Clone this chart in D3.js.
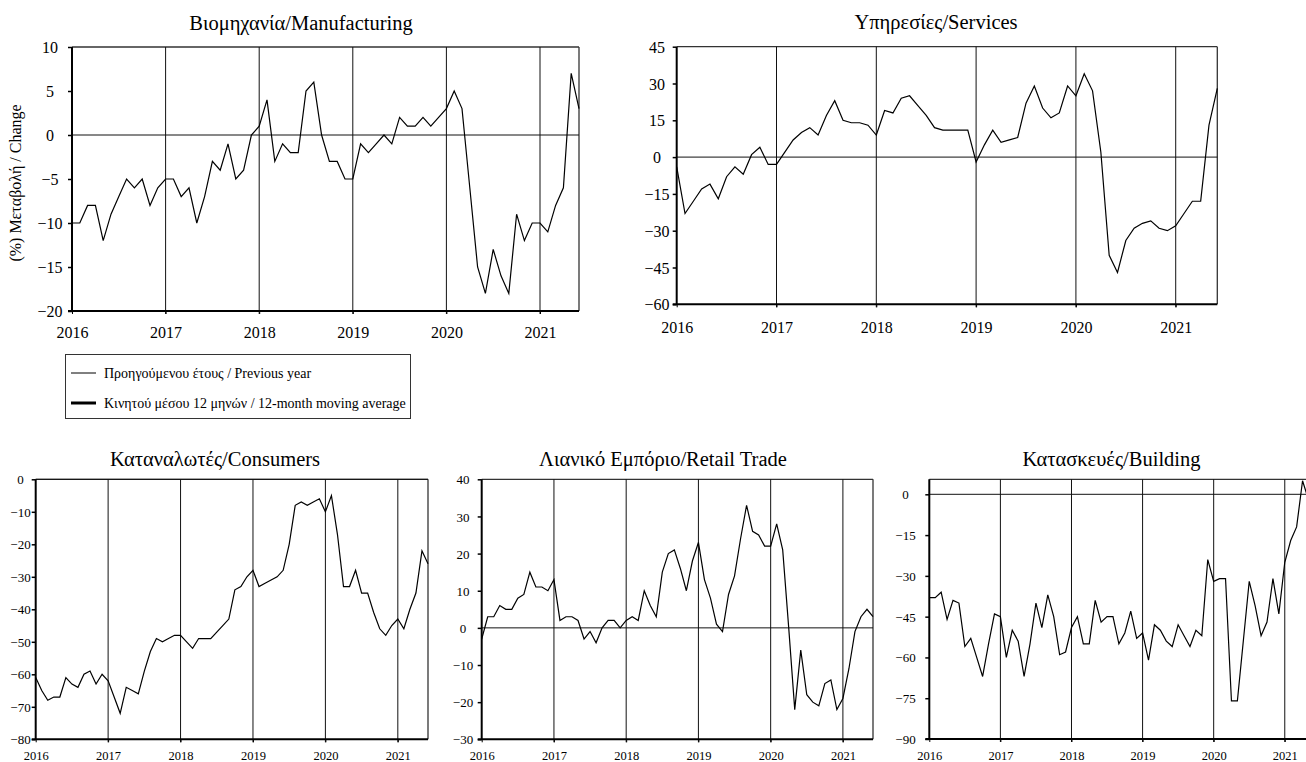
<!DOCTYPE html>
<html><head><meta charset="utf-8">
<script src="https://cdn.jsdelivr.net/npm/d3@7"></script>
<style>
body{margin:0;background:#fff}
svg{display:block}
text{font-family:"Liberation Serif","DejaVu Serif",serif;fill:#000}
</style>
</head><body>
<svg id="c" width="1306" height="762"></svg>
<script>
// ---------- DATA (monthly, Jan 2016 – Jun 2021) ----------
const yearLabels = ["2016","2017","2018","2019","2020","2021"];
const yearStartIndex = [0, 12, 24, 36, 48, 60];

const titles = ["Βιομηχανία/Manufacturing", "Υπηρεσίες/Services", "Καταναλωτές/Consumers",
                "Λιανικό Εμπόριο/Retail Trade", "Κατασκευές/Building"];
const yAxisTitle = "(%) Μεταβολή / Change";
const legendLabels = ["Προηγούμενου έτους / Previous year",
                      "Κινητού μέσου 12 μηνών / 12-month moving average"];

const manufacturing = [-10,-10,-8,-8,-12,-9,-7,-5,-6,-5,-8,-6,
  -5,-5,-7,-6,-10,-7,-3,-4,-1,-5,-4,0,
  1,4,-3,-1,-2,-2,5,6,0,-3,-3,-5,
  -5,-1,-2,-1,0,-1,2,1,1,2,1,2,
  3,5,3,-6,-15,-18,-13,-16,-18,-9,-12,-10,
  -10,-11,-8,-6,7,3];
const services = [-4,-23,-18,-13,-11,-17,-8,-4,-7,1,4,-3,
  -3,2,7,10,12,9,17,23,15,14,14,13,
  9,19,18,24,25,21,17,12,11,11,11,11,
  -2,5,11,6,7,8,22,29,20,16,18,29,
  25,34,27,2,-40,-47,-34,-29,-27,-26,-29,-30,
  -28,-23,-18,-18,13,28];
const consumers = [-61,-65,-68,-67,-67,-61,-63,-64,-60,-59,-63,-60,
  -62,-67,-72,-64,-65,-66,-59,-53,-49,-50,-49,-48,
  -48,-50,-52,-49,-49,-49,-47,-45,-43,-34,-33,-30,
  -28,-33,-32,-31,-30,-28,-20,-8,-7,-8,-7,-6,
  -10,-5,-17,-33,-33,-28,-35,-35,-41,-46,-48,-45,
  -43,-46,-40,-35,-22,-26];
const retail = [-3,3,3,6,5,5,8,9,15,11,11,10,
  13,2,3,3,2,-3,-1,-4,0,2,2,0,
  2,3,2,10,6,3,15,20,21,16,10,18,
  23,13,8,1,-1,9,14,24,33,26,25,22,
  22,28,21,0,-22,-6,-18,-20,-21,-15,-14,-22,
  -19,-11,-1,3,5,3];
const building = [-38,-38,-36,-46,-39,-40,-56,-53,-60,-67,-55,-44,
  -45,-60,-50,-54,-67,-55,-40,-49,-37,-45,-59,-58,
  -49,-45,-55,-55,-39,-47,-45,-45,-55,-51,-43,-53,
  -51,-61,-48,-50,-54,-56,-48,-52,-56,-50,-52,-24,
  -32,-31,-31,-76,-76,-54,-32,-41,-52,-47,-31,-44,
  -25,-17,-12,5,-2];

const yTicksManuf = [-20,-15,-10,-5,0,5,10];
const yTicksServ = [-60,-45,-30,-15,0,15,30,45];
const yTicksCons = [-80,-70,-60,-50,-40,-30,-20,-10,0];
const yTicksRetail = [-30,-20,-10,0,10,20,30,40];
const yTicksBuild = [-90,-75,-60,-45,-30,-15,0];

// ---------- LAYOUT ----------
const FONT = '"Liberation Serif","DejaVu Serif",serif';
const svg = d3.select("#c");

function drawPanel(values, yTicks, o) {
  const g = svg.append("g");
  const x = d3.scaleLinear().domain([0, 65]).range([o.left, o.right]);
  const y = d3.scaleLinear().domain(o.yDomain).range([o.bottom, o.top]);
  const xr = Math.min(o.right, 1306);

  // border (top/right)
  g.append("line").attr("x1", o.left).attr("x2", xr).attr("y1", o.top).attr("y2", o.top)
    .attr("stroke", "#333").attr("stroke-width", 1.3);
  g.append("line").attr("x1", o.right).attr("x2", o.right).attr("y1", o.top).attr("y2", o.bottom)
    .attr("stroke", "#333").attr("stroke-width", 1.3);

  // year gridlines
  g.selectAll(".yg").data(yearStartIndex.slice(1)).join("line")
    .attr("x1", d => x(d)).attr("x2", d => x(d)).attr("y1", o.top).attr("y2", o.bottom + 3)
    .attr("stroke", "#111").attr("stroke-width", 1);

  // zero line
  g.append("line").attr("x1", o.left).attr("x2", xr).attr("y1", y(0)).attr("y2", y(0))
    .attr("stroke", "#111").attr("stroke-width", 1);

  // left axis
  const ay = d3.axisLeft(y).tickValues(yTicks).tickSize(4).tickFormat(d3.format("d"));
  const gy = g.append("g").attr("transform", `translate(${o.left},0)`).call(ay)
    .attr("font-family", FONT).attr("font-size", o.tickSize);
  gy.select(".domain").remove();
  gy.selectAll(".tick line").attr("stroke", "#000").attr("stroke-width", 1.5);
  gy.selectAll(".tick text").attr("text-anchor", "middle").attr("x", o.yLabelX - o.left)
    .attr("dy", "0.35em").style("font-size", o.tickSize + "px").style("font-family", FONT);
  g.append("line").attr("x1", o.left).attr("x2", o.left).attr("y1", o.top).attr("y2", o.bottom + 0.5)
    .attr("stroke", "#000").attr("stroke-width", 2);

  // bottom axis
  g.append("line").attr("x1", o.left - 4).attr("x2", xr).attr("y1", o.bottom).attr("y2", o.bottom)
    .attr("stroke", "#000").attr("stroke-width", 2);
  const ax = d3.axisBottom(x).tickValues(yearStartIndex).tickSize(3)
    .tickFormat((d, i) => yearLabels[i]);
  const gx = g.append("g").attr("transform", `translate(0,${o.bottom})`).call(ax)
    .attr("font-family", FONT).attr("font-size", o.xTickSize);
  gx.select(".domain").remove();
  gx.selectAll(".tick line").attr("stroke", "#000");
  gx.selectAll(".tick text").attr("y", o.xLabelDy).attr("dy", 0)
    .style("font-size", o.xTickSize + "px").style("font-family", FONT);

  // data line
  const line = d3.line().x((d, i) => x(i)).y(d => y(d));
  g.append("path").datum(values).attr("d", line)
    .attr("fill", "none").attr("stroke", "#000").attr("stroke-width", 1.2).attr("stroke-linejoin", "miter");

  // title
  g.append("text").attr("x", o.titleX).attr("y", o.titleY).attr("text-anchor", "middle")
    .style("font-size", o.titleSize + "px").text(o.title);
}

drawPanel(manufacturing, yTicksManuf, {left:72, right:579, top:47, bottom:311, yDomain:[-20,10],
  yLabelX:50, tickSize:16, xTickSize:16, xLabelDy:27, title:titles[0], titleX:301, titleY:30, titleSize:20.5});
drawPanel(services, yTicksServ, {left:676.7, right:1217.3, top:46.7, bottom:304.3, yDomain:[-60,45],
  yLabelX:657, tickSize:16, xTickSize:16, xLabelDy:29, title:titles[1], titleX:936, titleY:29, titleSize:20.5});
drawPanel(consumers, yTicksCons, {left:35.7, right:428, top:479.3, bottom:739.3, yDomain:[-80,0],
  yLabelX:20.5, tickSize:13, xTickSize:12.5, xLabelDy:21, title:titles[2], titleX:215, titleY:466, titleSize:20.5});
drawPanel(retail, yTicksRetail, {left:481.7, right:873, top:479.3, bottom:739.3, yDomain:[-30,40],
  yLabelX:463, tickSize:13, xTickSize:12.5, xLabelDy:21, title:titles[3], titleX:663, titleY:466, titleSize:20.5});
drawPanel(building, yTicksBuild, {left:929.3, right:1314.4, top:479.3, bottom:739, yDomain:[-90,5.52],
  yLabelX:905.5, tickSize:13, xTickSize:12.5, xLabelDy:21, title:titles[4], titleX:1111.5, titleY:466, titleSize:20.5});

// y axis title (panel 1)
svg.append("text").attr("transform", "translate(21,183) rotate(-90)").attr("text-anchor", "middle")
  .style("font-size", "16px").text(yAxisTitle);

// legend
const lg = svg.append("g");
lg.append("rect").attr("x", 65.5).attr("y", 354.5).attr("width", 345).attr("height", 64)
  .attr("fill", "#fff").attr("stroke", "#333").attr("stroke-width", 1);
const legendWidths = [1, 3];
legendLabels.forEach((t, i) => {
  const yy = 373 + i * 30;
  lg.append("line").attr("x1", 71).attr("x2", 96).attr("y1", yy).attr("y2", yy)
    .attr("stroke", "#000").attr("stroke-width", legendWidths[i]);
  lg.append("text").attr("x", 104).attr("y", yy + 5).style("font-size", "14px").text(t);
});
</script>
</body></html>
